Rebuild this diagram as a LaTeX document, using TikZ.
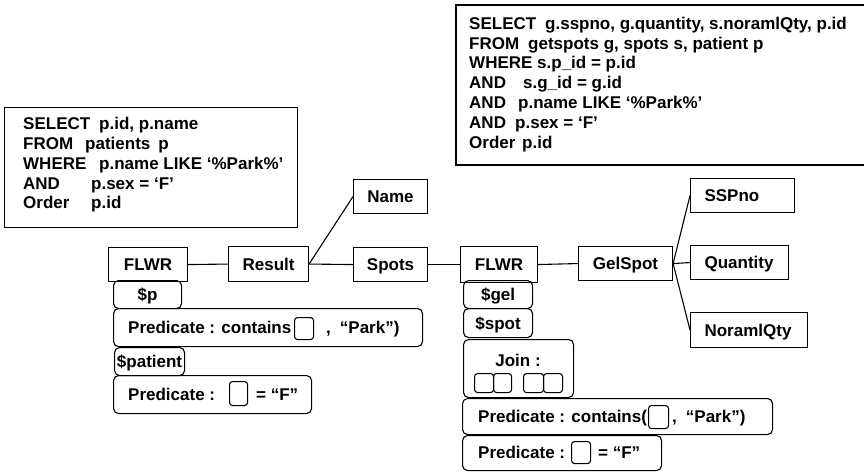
\documentclass[tikz,border=0pt]{standalone}
\usepackage{fontspec}
\setmainfont{Liberation Sans}
\begin{document}
\begin{tikzpicture}[x=1pt,y=-1pt,
  every node/.style={font=\bfseries\fontsize{17}{20}\selectfont, inner sep=0pt},
  box/.style={draw, line width=1.1pt, anchor=north west, text height=12.5pt, text depth=0pt},
  lbox/.style={box, align=left, inner xsep=14pt},
  rbox/.style={box, rounded corners=5pt},
  sq/.style={draw, line width=1.1pt, rounded corners=3pt, anchor=north west},
  txt/.style={anchor=base west},
  conn/.style={line width=1.1pt}]
\useasboundingbox (0,0) rectangle (864,471);

% SQL boxes
\node[draw, line width=1.1pt, anchor=north west, minimum width=293pt, minimum height=120pt] (sqlL) at (4,107) {};
\node[txt] (l1) at (23,129) {\makebox[76pt][l]{SELECT}p.id, p.name};
\node[txt] (l2) at (23,149) {\makebox[62pt][l]{FROM}patients\hspace{8pt}p};
\node[txt] (l3) at (23,169) {\makebox[76pt][l]{WHERE}p.name LIKE ‘\%Park\%’};
\node[txt] (l4) at (23,189) {\makebox[68pt][l]{AND}p.sex = ‘F’};
\node[txt] (l5) at (23,208) {\makebox[68pt][l]{Order}p.id};

\draw[line width=1.1pt] (864,5) -- (456,5) -- (456,165) -- (864,165);
\node[txt] (r1) at (469,29) {\makebox[76pt][l]{SELECT}g.sspno, g.quantity, s.noramlQty, p.id};
\node[txt] (r2) at (469,49) {\makebox[59pt][l]{FROM}getspots g, spots s, patient p};
\node[txt] (r3) at (469,68.5) {WHERE s.p\_id = p.id};
\node[txt] (r4) at (469,88) {\makebox[54pt][l]{AND}s.g\_id = g.id};
\node[txt] (r5) at (469,108) {\makebox[49pt][l]{AND}p.name LIKE ‘\%Park\%’};
\node[txt] (r6) at (469,128) {\makebox[46pt][l]{AND}p.sex = ‘F’};
\node[txt] (r7) at (469,148) {\makebox[53pt][l]{Order}p.id};

% main row
\node[box, minimum width=79pt, minimum height=34pt] (flwr1) at (108,247) {FLWR};
\node[box, minimum width=80pt, minimum height=35pt] (result) at (228,246) {Result};
\node[box, minimum width=74pt, minimum height=34pt] (spots) at (353,247) {Spots};
\node[box, minimum width=77pt, minimum height=36pt] (flwr2) at (460,246) {FLWR};
\node[box, minimum width=94pt, minimum height=34pt] (gelspot) at (578,246) {GelSpot};
\node[box, minimum width=74pt, minimum height=34pt] (name) at (353,179) {Name};
\node[lbox, text width=76pt, minimum height=34pt] (sspno) at (690,178) {SSPno};
\node[lbox, text width=70pt, minimum height=34pt] (quantity) at (690,245) {Quantity};
\node[lbox, text width=89pt, minimum height=35pt] (noramlqty) at (690,312) {NoramlQty};

\draw[conn] (flwr1.east) -- (result.west);
\draw[conn] (result.east) -- (name.west);
\draw[conn] (result.east) -- (spots.west);
\draw[conn] (spots.east) -- (flwr2.west);
\draw[conn] (flwr2.east) -- (gelspot.west);
\draw[conn] (gelspot.east) -- (sspno.west);
\draw[conn] (gelspot.east) -- (quantity.west);
\draw[conn] (gelspot.east) -- (noramlqty.west);

% left stack
\node[rbox, minimum width=68pt, minimum height=28pt] (vp) at (113,280) {\$p};
\node[rbox, minimum width=309pt, minimum height=38pt] (pred1) at (113,308) {};
\node[txt] (t1a) at (128,333) {Predicate : contains};
\node[sq, minimum width=19pt, minimum height=22pt] (s1) at (294,317) {};
\node[txt] (t1b) at (326,333) {,\hspace{9pt}“Park”)};
\node[rbox, minimum width=70pt, minimum height=28pt] (vpatient) at (114,347) {\$patient};
\node[rbox, minimum width=198pt, minimum height=38pt] (pred2) at (113,375) {};
\node[txt] (t2a) at (128,400) {Predicate :};
\node[sq, minimum width=18pt, minimum height=24pt] (s2) at (229,381) {};
\node[txt] (t2b) at (256,400) {= “F”};

% right stack
\node[rbox, minimum width=69pt, minimum height=28pt] (vgel) at (463,280) {\$gel};
\node[rbox, minimum width=69pt, minimum height=29pt] (vspot) at (463,308) {\$spot};
\node[rbox, minimum width=110pt, minimum height=58pt] (join) at (463,339) {};
\node[text height=12.5pt, text depth=0pt] (jt) at (518,360) {Join :};
\node[sq, minimum width=19pt, minimum height=19pt] (j1) at (474,373) {};
\node[sq, minimum width=18pt, minimum height=19pt] (j2) at (493,373) {};
\node[sq, minimum width=20pt, minimum height=19pt] (j3) at (523,373) {};
\node[sq, minimum width=19pt, minimum height=19pt] (j4) at (543,373) {};
\node[rbox, minimum width=310pt, minimum height=36pt] (pred3) at (462,398) {};
\node[txt] (t3a) at (478,422) {Predicate : contains(};
\node[sq, minimum width=20pt, minimum height=23pt] (s3) at (648,405) {};
\node[txt] (t3b) at (672,422) {,\hspace{9pt}“Park”)};
\node[rbox, minimum width=199pt, minimum height=35pt] (pred4) at (462,435) {};
\node[txt] (t4a) at (478,458.5) {Predicate :};
\node[sq, minimum width=19pt, minimum height=22pt] (s4) at (571,441) {};
\node[txt] (t4b) at (598,458.5) {= “F”};
\end{tikzpicture}
\end{document}
